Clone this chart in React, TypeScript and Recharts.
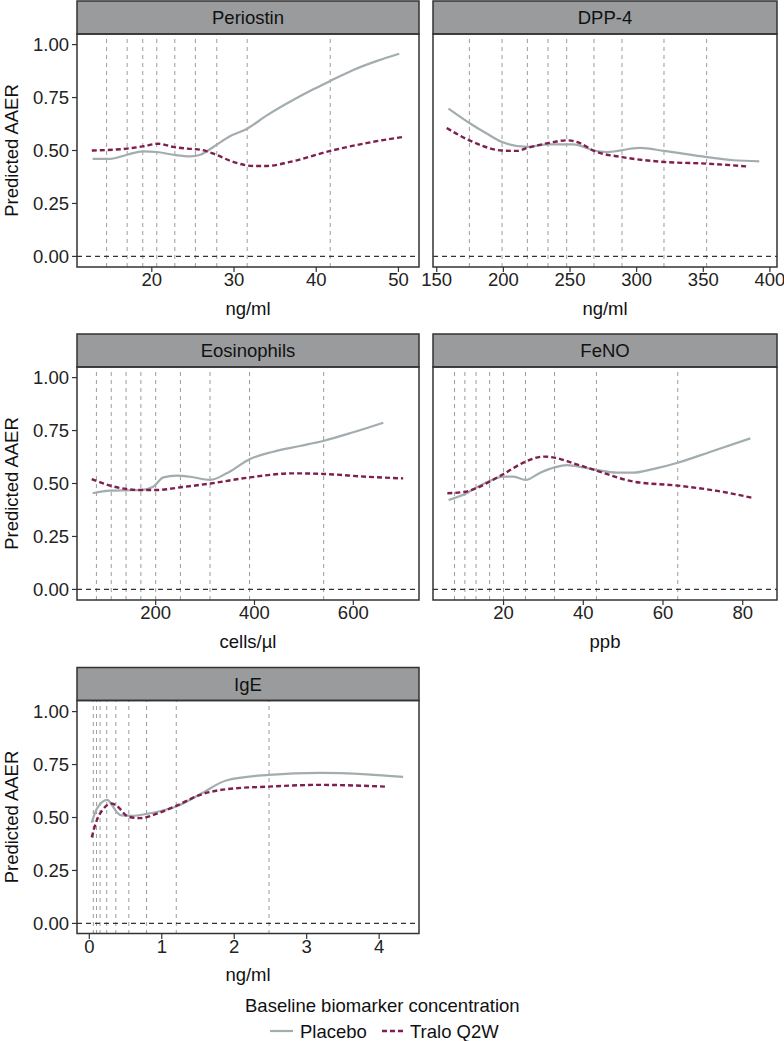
import React from "react";
import { LineChart, Line, XAxis, YAxis, ReferenceLine } from "recharts";

const FONT = '"Liberation Sans", Arial, Helvetica, sans-serif';
const PLACEBO_COLOR = "#a3acaf";
const TRALO_COLOR = "#7e1f4e";
const FS = 18.5;

// shared y axis
const yTicks = [0, 0.25, 0.5, 0.75, 1];

// Periostin (ng/ml)
const periostinTicks = [20, 30, 40, 50];
const periostinDeciles = [14.5, 17.0, 18.9, 20.6, 22.8, 25.3, 27.9, 31.6, 41.7];
const periostinPlaceboX = [12.8, 14.9, 17.0, 18.9, 20.6, 22.6, 24.7, 25.9, 27.9, 29.5, 31.6, 34.0, 36.8, 39.7, 41.7, 44.5, 47.4, 50.1];
const periostinPlaceboY = [0.46, 0.46, 0.48, 0.496, 0.493, 0.48, 0.472, 0.48, 0.528, 0.567, 0.603, 0.666, 0.73, 0.79, 0.828, 0.88, 0.923, 0.957];
const periostinTraloX = [12.7, 17.0, 19.0, 20.8, 22.6, 24.3, 25.9, 27.5, 29.9, 32.4, 34.0, 36.8, 41.7, 46.1, 50.6];
const periostinTraloY = [0.50, 0.509, 0.52, 0.532, 0.517, 0.509, 0.504, 0.485, 0.446, 0.427, 0.427, 0.446, 0.498, 0.535, 0.564];

// DPP-4 (ng/ml)
const dppTicks = [150, 200, 250, 300, 350, 400];
const dppDeciles = [174.5, 199, 218, 233.5, 247.5, 268, 289, 320.5, 352.5];
const dppPlaceboX = [158.8, 174.5, 187.5, 199, 218, 233.5, 252.5, 268, 277.5, 302.5, 320.5, 352.5, 372.5, 392];
const dppPlaceboY = [0.698, 0.63, 0.58, 0.54, 0.517, 0.529, 0.529, 0.50, 0.493, 0.512, 0.498, 0.469, 0.454, 0.449];
const dppTraloX = [157.5, 174.5, 199, 210, 218, 233.5, 247.5, 257.5, 268, 289, 320.5, 352.5, 382.5];
const dppTraloY = [0.606, 0.548, 0.50, 0.498, 0.512, 0.535, 0.548, 0.535, 0.498, 0.469, 0.446, 0.438, 0.425];

// Eosinophils (cells/µl)
const eosTicks = [200, 400, 600];
const eosDeciles = [80, 110, 140, 170, 200, 250, 310, 390, 540];
const eosPlaceboX = [72.5, 107.6, 140, 169.6, 195, 215.5, 242.5, 269.5, 310.6, 343.7, 391, 438, 492, 541, 600, 660.7];
const eosPlaceboY = [0.454, 0.466, 0.468, 0.469, 0.485, 0.529, 0.537, 0.532, 0.517, 0.548, 0.616, 0.65, 0.677, 0.702, 0.742, 0.787];
const eosTraloX = [70.5, 107.6, 140, 169.6, 200, 250.6, 310.6, 391, 478.6, 541, 627, 701];
const eosTraloY = [0.521, 0.49, 0.474, 0.469, 0.469, 0.482, 0.50, 0.529, 0.548, 0.545, 0.532, 0.524];

// FeNO (ppb)
const fenoTicks = [20, 40, 60, 80];
const fenoDeciles = [7.7, 10.3, 13.1, 16.5, 20, 25.5, 32.8, 43.3, 63.7];
const fenoPlaceboX = [6.2, 10.3, 13.1, 16.5, 20, 22.5, 25.5, 29.2, 32.8, 35.9, 40, 43.3, 48.5, 52.6, 57.7, 63.7, 72.7, 81.9];
const fenoPlaceboY = [0.422, 0.45, 0.48, 0.512, 0.532, 0.532, 0.517, 0.551, 0.576, 0.587, 0.576, 0.564, 0.551, 0.551, 0.569, 0.598, 0.655, 0.713];
const fenoTraloX = [5.9, 10.3, 13.1, 16.5, 20, 25.5, 30, 32.8, 37.6, 43.3, 52.6, 63.7, 73.6, 82.3];
const fenoTraloY = [0.454, 0.461, 0.477, 0.509, 0.545, 0.603, 0.627, 0.622, 0.595, 0.561, 0.509, 0.49, 0.465, 0.433];

// IgE (ng/ml)
const igeTicks = [0, 1, 2, 3, 4];
const igeDeciles = [0.055, 0.1, 0.148, 0.24, 0.366, 0.545, 0.79, 1.2, 2.48];
const igePlaceboX = [0.033, 0.1, 0.17, 0.248, 0.31, 0.378, 0.45, 0.6, 0.79, 1.0, 1.2, 1.53, 1.9, 2.48, 3.18, 3.83, 4.33];
const igePlaceboY = [0.476, 0.539, 0.571, 0.583, 0.56, 0.525, 0.51, 0.508, 0.517, 0.532, 0.552, 0.61, 0.676, 0.701, 0.711, 0.704, 0.692];
const igeTraloX = [0.033, 0.1, 0.19, 0.31, 0.378, 0.543, 0.7, 0.976, 1.2, 1.53, 1.9, 2.48, 3.18, 4.08];
const igeTraloY = [0.406, 0.484, 0.539, 0.566, 0.555, 0.503, 0.497, 0.524, 0.555, 0.607, 0.634, 0.646, 0.654, 0.646];

const toPoints = (xs: number[], ys: number[]) => xs.map((x, i) => ({ x, y: ys[i] }));

const PLOT_H = 233;
const STRIP_H = 33;
const LEFT_COL = { left: 77, right: 419 };
const RIGHT_COL = { left: 433, right: 777 };
const ROW_TOPS = [34, 367, 700.5];
const PAD = 20;

type PanelDef = {
  title: string;
  unit: string;
  col: { left: number; right: number };
  row: number;
  domain: [number, number];
  ticks: number[];
  deciles: number[];
  placebo: { x: number; y: number }[];
  tralo: { x: number; y: number }[];
  showY: boolean;
};

const panels: PanelDef[] = [
  { title: "Periostin", unit: "ng/ml", col: LEFT_COL, row: 0, domain: [10.9, 52.5], ticks: periostinTicks, deciles: periostinDeciles,
    placebo: toPoints(periostinPlaceboX, periostinPlaceboY), tralo: toPoints(periostinTraloX, periostinTraloY), showY: true },
  { title: "DPP-4", unit: "ng/ml", col: RIGHT_COL, row: 0, domain: [147.2, 405.3], ticks: dppTicks, deciles: dppDeciles,
    placebo: toPoints(dppPlaceboX, dppPlaceboY), tralo: toPoints(dppTraloX, dppTraloY), showY: false },
  { title: "Eosinophils", unit: "cells/µl", col: LEFT_COL, row: 1, domain: [40.7, 733], ticks: eosTicks, deciles: eosDeciles,
    placebo: toPoints(eosPlaceboX, eosPlaceboY), tralo: toPoints(eosTraloX, eosTraloY), showY: true },
  { title: "FeNO", unit: "ppb", col: RIGHT_COL, row: 1, domain: [2.3, 88.6], ticks: fenoTicks, deciles: fenoDeciles,
    placebo: toPoints(fenoPlaceboX, fenoPlaceboY), tralo: toPoints(fenoTraloX, fenoTraloY), showY: false },
  { title: "IgE", unit: "ng/ml", col: LEFT_COL, row: 2, domain: [-0.17, 4.55], ticks: igeTicks, deciles: igeDeciles,
    placebo: toPoints(igePlaceboX, igePlaceboY), tralo: toPoints(igeTraloX, igeTraloY), showY: true },
];

const tickStyle = { fill: "#222", fontSize: FS, fontFamily: FONT };

function Panel({ p }: { p: PanelDef }) {
  const top = ROW_TOPS[p.row];
  const leftPad = p.showY ? 0 : PAD;
  const chartLeft = p.showY ? 0 : p.col.left - PAD;
  const chartW = p.col.right + 14 - chartLeft;
  return (
    <div style={{ position: "absolute", left: chartLeft, top }}>
      <LineChart width={chartW} height={PLOT_H + 34} margin={{ top: 0, right: 14, bottom: 0, left: leftPad }}>
        <XAxis
          dataKey="x"
          type="number"
          domain={p.domain}
          ticks={p.ticks}
          interval={0}
          allowDataOverflow
          axisLine={false}
          tickLine={{ stroke: "#333", strokeWidth: 1.2 }}
          tickSize={5}
          tickMargin={1}
          tick={tickStyle}
          height={34}
        />
        <YAxis
          type="number"
          domain={[-0.05, 1.05]}
          ticks={yTicks}
          hide={!p.showY}
          width={p.col.left}
          axisLine={false}
          tickLine={{ stroke: "#333", strokeWidth: 1.2 }}
          tickSize={5}
          tickMargin={3}
          tick={tickStyle}
          tickFormatter={(v: number) => v.toFixed(2)}
        />
        {p.deciles.map((d) => (
          <ReferenceLine key={d} x={d} stroke="#9c9c9c" strokeWidth={1} strokeDasharray="4 4" />
        ))}
        <ReferenceLine y={0} stroke="#333" strokeWidth={1.2} strokeDasharray="5 4" />
        <Line data={p.placebo} dataKey="y" type="monotone" stroke={PLACEBO_COLOR} strokeWidth={2.2} dot={false} isAnimationActive={false} />
        <Line data={p.tralo} dataKey="y" type="monotone" stroke={TRALO_COLOR} strokeWidth={2.4} strokeDasharray="5 3" dot={false} isAnimationActive={false} />
      </LineChart>
    </div>
  );
}

function Overlay() {
  return (
    <svg width={784} height={1041} style={{ position: "absolute", left: 0, top: 0, pointerEvents: "none" }}>
      {panels.map((p) => {
        const top = ROW_TOPS[p.row];
        const w = p.col.right - p.col.left;
        const cx = (p.col.left + p.col.right) / 2;
        return (
          <g key={p.title}>
            <rect x={p.col.left} y={top - STRIP_H} width={w} height={STRIP_H} fill="#999b9c" stroke="#333" strokeWidth={1.5} />
            <text x={cx} y={top - STRIP_H / 2} textAnchor="middle" dominantBaseline="central" fontFamily={FONT} fontSize={FS} fill="#111">
              {p.title}
            </text>
            <rect x={p.col.left} y={top} width={w} height={PLOT_H} fill="none" stroke="#333" strokeWidth={1.5} />
            <text x={cx} y={top + PLOT_H + 41} textAnchor="middle" dominantBaseline="central" fontFamily={FONT} fontSize={FS} fill="#111">
              {p.unit}
            </text>
            {p.showY && (
              <text
                transform={`translate(11, ${top + PLOT_H / 2}) rotate(-90)`}
                textAnchor="middle"
                dominantBaseline="central"
                fontFamily={FONT}
                fontSize={FS}
                fill="#111"
              >
                Predicted AAER
              </text>
            )}
          </g>
        );
      })}
      <text x={245} y={1005} dominantBaseline="central" fontFamily={FONT} fontSize={FS} fill="#111">
        Baseline biomarker concentration
      </text>
      <line x1={270} x2={293} y1={1031} y2={1031} stroke={PLACEBO_COLOR} strokeWidth={2.2} />
      <text x={300} y={1031} dominantBaseline="central" fontFamily={FONT} fontSize={FS} fill="#111">
        Placebo
      </text>
      <line x1={382} x2={404} y1={1031} y2={1031} stroke={TRALO_COLOR} strokeWidth={2.4} strokeDasharray="5 3" />
      <text x={410} y={1031} dominantBaseline="central" fontFamily={FONT} fontSize={FS} fill="#111">
        Tralo Q2W
      </text>
    </svg>
  );
}

export default function App() {
  return (
    <div style={{ position: "absolute", left: 0, top: 0, width: 784, height: 1041, background: "#fff", fontFamily: FONT }}>
      {panels.map((p) => (
        <Panel key={p.title} p={p} />
      ))}
      <Overlay />
    </div>
  );
}
